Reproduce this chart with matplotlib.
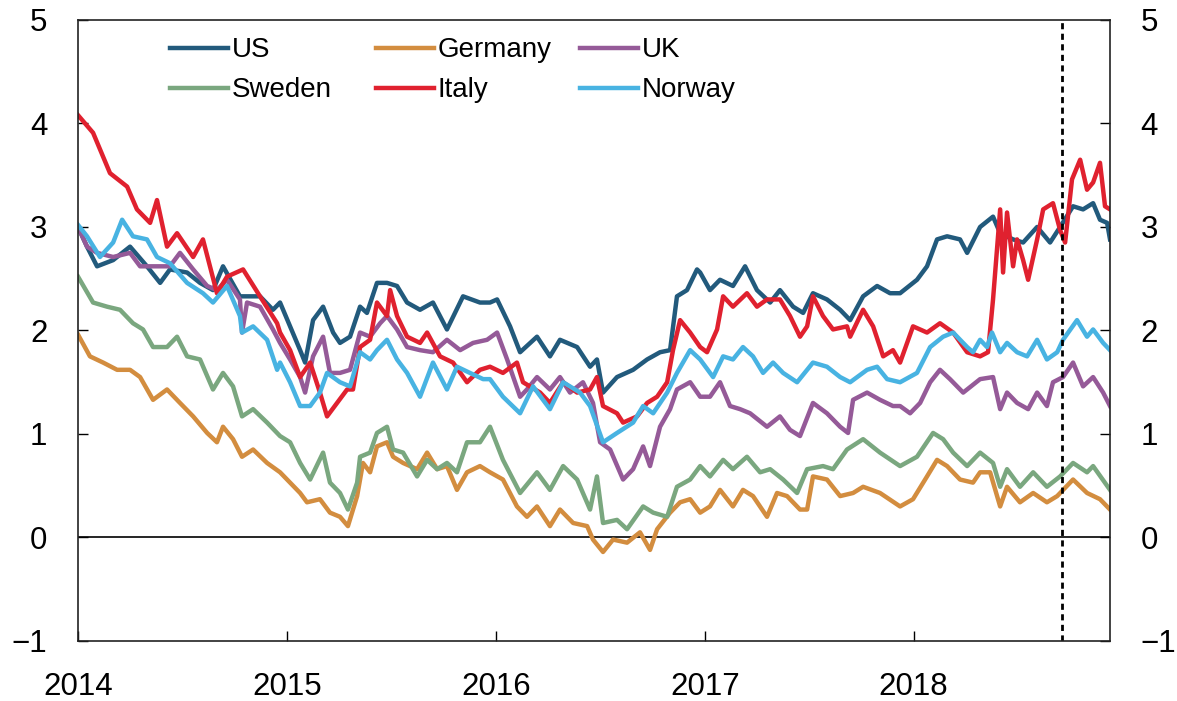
import matplotlib.pyplot as plt
from matplotlib.legend import Legend

# 10-year government bond yields (percent).
# *_t = years after 1 Jan 2014, values in percent
us_t = [0.0, 0.043, 0.091, 0.168, 0.249, 0.330, 0.393, 0.440, 0.522, 0.584, 0.646, 0.694, 0.775, 0.871, 0.933,
        0.967, 1.015, 1.063, 1.087, 1.125, 1.173, 1.221, 1.254, 1.302, 1.350, 1.383, 1.431, 1.479, 1.527, 1.575, 1.637, 1.699, 1.766, 1.843, 1.924,
        1.972, 2.006, 2.068, 2.116, 2.197, 2.259, 2.307, 2.389, 2.451, 2.484, 2.513, 2.580, 2.657, 2.724, 2.786, 2.834, 2.867, 2.915, 2.963,
        2.978, 3.025, 3.073, 3.135, 3.193, 3.250, 3.313, 3.360, 3.423, 3.471, 3.518, 3.585, 3.648, 3.696, 3.758, 3.825, 3.887,
        3.935, 4.016, 4.064, 4.112, 4.160, 4.222, 4.256, 4.318, 4.380, 4.414, 4.476, 4.524, 4.591, 4.653, 4.701, 4.763, 4.811, 4.859, 4.892, 4.926, 4.940]
us = [3.00, 2.81, 2.62, 2.68, 2.81, 2.62, 2.46, 2.59, 2.56, 2.46, 2.39, 2.62, 2.33, 2.33, 2.20,
      2.27, 2.04, 1.81, 1.69, 2.10, 2.23, 1.98, 1.88, 1.94, 2.23, 2.17, 2.46, 2.46, 2.43, 2.27, 2.20, 2.27, 2.01, 2.33, 2.27,
      2.27, 2.30, 2.04, 1.79, 1.94, 1.75, 1.91, 1.84, 1.65, 1.72, 1.40, 1.55, 1.62, 1.72, 1.79, 1.81, 2.33, 2.39, 2.59,
      2.56, 2.39, 2.49, 2.43, 2.62, 2.39, 2.27, 2.39, 2.23, 2.17, 2.36, 2.30, 2.20, 2.10, 2.33, 2.43, 2.36,
      2.36, 2.49, 2.62, 2.88, 2.91, 2.88, 2.75, 3.00, 3.10, 2.94, 2.88, 2.85, 3.00, 2.85, 3.00, 3.20, 3.17, 3.23, 3.07, 3.04, 2.88]

de_t = [0.0, 0.057, 0.120, 0.187, 0.249, 0.297, 0.359, 0.426, 0.488, 0.551, 0.618, 0.665, 0.694, 0.742, 0.785, 0.838, 0.905, 0.967,
        1.015, 1.063, 1.096, 1.158, 1.206, 1.254, 1.292, 1.336, 1.364, 1.398, 1.431, 1.479, 1.508, 1.556, 1.623, 1.671, 1.719, 1.766, 1.814, 1.862, 1.924,
        1.972, 2.034, 2.101, 2.149, 2.197, 2.259, 2.307, 2.370, 2.437, 2.465, 2.513, 2.561, 2.628, 2.690, 2.738, 2.772, 2.834, 2.882, 2.930,
        2.978, 3.025, 3.073, 3.135, 3.183, 3.231, 3.298, 3.346, 3.394, 3.456, 3.490, 3.518, 3.585, 3.648, 3.710, 3.758, 3.839,
        3.935, 3.997, 4.064, 4.112, 4.160, 4.222, 4.284, 4.318, 4.366, 4.414, 4.447, 4.509, 4.572, 4.638, 4.687, 4.763, 4.830, 4.892, 4.940]
germany = [1.96, 1.75, 1.69, 1.62, 1.62, 1.55, 1.33, 1.43, 1.30, 1.17, 1.01, 0.92, 1.07, 0.95, 0.78, 0.85, 0.72, 0.63,
           0.53, 0.43, 0.34, 0.37, 0.24, 0.20, 0.11, 0.40, 0.72, 0.63, 0.88, 0.92, 0.78, 0.72, 0.66, 0.82, 0.66, 0.69, 0.46, 0.63, 0.69,
           0.63, 0.56, 0.30, 0.20, 0.30, 0.11, 0.27, 0.14, 0.11, -0.02, -0.14, -0.02, -0.05, 0.05, -0.12, 0.08, 0.24, 0.34, 0.37,
           0.24, 0.30, 0.46, 0.30, 0.46, 0.40, 0.20, 0.43, 0.40, 0.27, 0.27, 0.59, 0.56, 0.40, 0.43, 0.49, 0.43,
           0.30, 0.37, 0.59, 0.75, 0.69, 0.56, 0.53, 0.63, 0.63, 0.30, 0.49, 0.34, 0.43, 0.34, 0.40, 0.56, 0.43, 0.37, 0.27]

uk_t = [0.0, 0.043, 0.091, 0.168, 0.249, 0.297, 0.359, 0.440, 0.488, 0.551, 0.618, 0.665, 0.713, 0.775, 0.785, 0.809, 0.871, 0.933,
        0.967, 1.015, 1.063, 1.087, 1.125, 1.173, 1.206, 1.254, 1.302, 1.350, 1.398, 1.446, 1.479, 1.527, 1.575, 1.637, 1.699, 1.766, 1.829, 1.891, 1.958,
        2.006, 2.054, 2.116, 2.149, 2.197, 2.259, 2.307, 2.355, 2.417, 2.465, 2.499, 2.547, 2.609, 2.657, 2.705, 2.738, 2.786, 2.834, 2.867, 2.930,
        2.978, 3.025, 3.073, 3.121, 3.169, 3.217, 3.298, 3.360, 3.408, 3.456, 3.518, 3.585, 3.648, 3.686, 3.710, 3.777, 3.839, 3.901,
        3.935, 3.983, 4.031, 4.079, 4.126, 4.174, 4.237, 4.318, 4.380, 4.414, 4.447, 4.495, 4.548, 4.591, 4.638, 4.667, 4.715, 4.763, 4.811, 4.859, 4.907, 4.940]
uk = [3.00, 2.81, 2.75, 2.71, 2.75, 2.62, 2.62, 2.62, 2.75, 2.59, 2.43, 2.39, 2.49, 2.30, 1.98, 2.27, 2.23, 2.01,
      1.88, 1.72, 1.55, 1.40, 1.75, 1.94, 1.59, 1.59, 1.62, 1.98, 1.94, 2.07, 2.14, 2.01, 1.84, 1.81, 1.79, 1.91, 1.81, 1.88, 1.91,
      1.98, 1.72, 1.36, 1.43, 1.55, 1.43, 1.55, 1.40, 1.50, 1.30, 0.92, 0.85, 0.56, 0.66, 0.88, 0.69, 1.07, 1.24, 1.43, 1.50,
      1.36, 1.36, 1.50, 1.27, 1.24, 1.20, 1.07, 1.17, 1.04, 0.98, 1.30, 1.20, 1.07, 1.01, 1.33, 1.40, 1.33, 1.27,
      1.27, 1.20, 1.30, 1.50, 1.62, 1.53, 1.40, 1.53, 1.55, 1.24, 1.40, 1.30, 1.24, 1.40, 1.27, 1.50, 1.55, 1.69, 1.46, 1.55, 1.40, 1.27]

se_t = [0.0, 0.072, 0.139, 0.201, 0.263, 0.311, 0.359, 0.426, 0.474, 0.522, 0.584, 0.646, 0.694, 0.742, 0.785, 0.838, 0.905, 0.967,
        1.015, 1.063, 1.111, 1.173, 1.206, 1.254, 1.292, 1.336, 1.350, 1.398, 1.431, 1.479, 1.508, 1.556, 1.623, 1.671, 1.719, 1.766, 1.814, 1.862, 1.924,
        1.972, 2.034, 2.116, 2.197, 2.259, 2.322, 2.389, 2.451, 2.484, 2.513, 2.580, 2.628, 2.705, 2.753, 2.820, 2.867, 2.930,
        2.978, 3.025, 3.088, 3.135, 3.202, 3.265, 3.313, 3.375, 3.442, 3.490, 3.566, 3.614, 3.681, 3.758, 3.839,
        3.935, 4.016, 4.093, 4.141, 4.189, 4.256, 4.318, 4.380, 4.414, 4.447, 4.509, 4.572, 4.638, 4.701, 4.763, 4.830, 4.859, 4.940]
sweden = [2.52, 2.27, 2.23, 2.20, 2.07, 2.01, 1.84, 1.84, 1.94, 1.75, 1.72, 1.43, 1.59, 1.46, 1.17, 1.24, 1.11, 0.98,
          0.92, 0.72, 0.56, 0.82, 0.53, 0.43, 0.27, 0.53, 0.78, 0.82, 1.01, 1.07, 0.85, 0.82, 0.59, 0.75, 0.66, 0.72, 0.63, 0.92, 0.92,
          1.07, 0.75, 0.43, 0.63, 0.46, 0.69, 0.56, 0.27, 0.59, 0.14, 0.17, 0.08, 0.30, 0.24, 0.20, 0.49, 0.56,
          0.69, 0.59, 0.75, 0.66, 0.78, 0.63, 0.66, 0.56, 0.43, 0.66, 0.69, 0.66, 0.85, 0.95, 0.82,
          0.69, 0.78, 1.01, 0.95, 0.82, 0.69, 0.82, 0.72, 0.49, 0.66, 0.49, 0.63, 0.49, 0.59, 0.72, 0.63, 0.69, 0.46]

it_t = [0.0, 0.072, 0.153, 0.235, 0.282, 0.345, 0.378, 0.426, 0.474, 0.551, 0.598, 0.665, 0.713, 0.790, 0.871, 0.953,
        0.967, 1.015, 1.063, 1.111, 1.158, 1.192, 1.240, 1.288, 1.316, 1.350, 1.398, 1.431, 1.479, 1.494, 1.527, 1.575, 1.637, 1.671, 1.733, 1.795, 1.862, 1.924,
        1.972, 2.034, 2.101, 2.130, 2.212, 2.259, 2.322, 2.389, 2.451, 2.484, 2.513, 2.580, 2.609, 2.676, 2.724, 2.772, 2.820, 2.848, 2.882, 2.930,
        2.978, 3.011, 3.059, 3.088, 3.135, 3.202, 3.250, 3.298, 3.360, 3.408, 3.456, 3.490, 3.518, 3.566, 3.614, 3.681, 3.696, 3.758, 3.806, 3.854, 3.901,
        3.935, 3.997, 4.064, 4.126, 4.189, 4.256, 4.318, 4.356, 4.380, 4.414, 4.428, 4.447, 4.476, 4.495, 4.524, 4.548, 4.591, 4.620, 4.667, 4.701,
        4.725, 4.758, 4.797, 4.830, 4.859, 4.892, 4.916, 4.940]
italy = [4.08, 3.91, 3.52, 3.39, 3.17, 3.04, 3.26, 2.81, 2.94, 2.71, 2.88, 2.36, 2.52, 2.59, 2.33, 2.07,
         1.98, 1.81, 1.55, 1.69, 1.40, 1.17, 1.30, 1.43, 1.43, 1.84, 1.91, 2.27, 2.14, 2.39, 2.14, 1.94, 1.88, 1.98, 1.75, 1.69, 1.50, 1.62,
         1.65, 1.59, 1.69, 1.50, 1.40, 1.30, 1.50, 1.40, 1.43, 1.55, 1.27, 1.20, 1.11, 1.17, 1.30, 1.36, 1.50, 1.81, 2.10, 1.98,
         1.84, 1.79, 2.01, 2.33, 2.23, 2.36, 2.23, 2.30, 2.30, 2.14, 1.94, 2.04, 2.33, 2.14, 2.01, 2.04, 1.94, 2.20, 2.04, 1.75, 1.81,
         1.69, 2.04, 1.98, 2.07, 1.98, 1.79, 1.75, 1.79, 2.30, 3.17, 2.56, 3.14, 2.62, 2.88, 2.68, 2.49, 2.88, 3.17, 3.23, 2.97,
         2.85, 3.46, 3.65, 3.36, 3.43, 3.62, 3.20, 3.17]

no_t = [0.0, 0.043, 0.105, 0.168, 0.211, 0.263, 0.330, 0.378, 0.440, 0.522, 0.598, 0.646, 0.713, 0.775, 0.785, 0.838, 0.905, 0.953,
        0.967, 1.015, 1.063, 1.111, 1.158, 1.192, 1.254, 1.302, 1.350, 1.398, 1.431, 1.479, 1.527, 1.575, 1.637, 1.699, 1.766, 1.814, 1.876, 1.939,
        1.972, 2.034, 2.116, 2.178, 2.259, 2.322, 2.403, 2.451, 2.513, 2.580, 2.657, 2.705, 2.753, 2.820, 2.867, 2.930,
        2.978, 3.040, 3.088, 3.135, 3.183, 3.231, 3.279, 3.327, 3.375, 3.442, 3.518, 3.585, 3.648, 3.696, 3.777, 3.825, 3.873,
        3.935, 4.016, 4.079, 4.141, 4.189, 4.256, 4.284, 4.318, 4.351, 4.375, 4.414, 4.447, 4.495, 4.543, 4.591, 4.638, 4.687, 4.715, 4.782, 4.830, 4.859, 4.907, 4.940]
norway = [3.02, 2.91, 2.71, 2.85, 3.07, 2.91, 2.88, 2.71, 2.65, 2.46, 2.36, 2.27, 2.43, 2.14, 1.98, 2.04, 1.91, 1.62,
          1.69, 1.50, 1.27, 1.27, 1.40, 1.59, 1.50, 1.46, 1.79, 1.72, 1.81, 1.91, 1.72, 1.59, 1.36, 1.69, 1.43, 1.65, 1.59, 1.53,
          1.53, 1.36, 1.20, 1.46, 1.24, 1.50, 1.40, 1.27, 0.92, 1.01, 1.11, 1.27, 1.20, 1.40, 1.59, 1.81,
          1.72, 1.55, 1.75, 1.72, 1.84, 1.75, 1.59, 1.69, 1.59, 1.50, 1.69, 1.65, 1.55, 1.50, 1.62, 1.65, 1.53,
          1.50, 1.59, 1.84, 1.94, 1.98, 1.84, 1.79, 1.91, 1.84, 1.98, 1.79, 1.88, 1.79, 1.75, 1.91, 1.72, 1.79, 1.91, 2.10, 1.94, 2.01, 1.88, 1.81]

START = 2014
END = 2014 + 4.94
RATE_DECISION = 2014 + 4.71  # dotted vertical line, Sept 2018
YEARS = [2014, 2015, 2016, 2017, 2018]

# series drawn in this order; colours
series = [
    ('US', us_t, us, '#225a7c'),
    ('Germany', de_t, germany, '#d38d3f'),
    ('UK', uk_t, uk, '#955a98'),
    ('Sweden', se_t, sweden, '#7aa77f'),
    ('Italy', it_t, italy, '#e0212f'),
    ('Norway', no_t, norway, '#48b3e2'),
]

plt.rcParams['font.family'] = ['Liberation Sans', 'DejaVu Sans']
plt.rcParams['font.size'] = 22.5

fig = plt.figure(figsize=(11.77, 7.01), dpi=100)
ax = fig.add_axes([0.0663, 0.0856, 0.8768, 0.8859])

lines = {}
for name, t, vals, col in series:
    x = [START + v for v in t]
    lines[name], = ax.plot(x, vals, color=col, lw=3.2, solid_joinstyle='round', label=name)

ax.axhline(0, color='black', lw=1.2, zorder=1)
ax.axvline(RATE_DECISION, color='black', lw=2, linestyle=(0, (2.2, 1.6)))

ax.set_xlim(START, END)
ax.set_ylim(-1, 5)
ax.set_xticks(YEARS)
ax.set_xticklabels([str(y) for y in YEARS])
ax.set_yticks(range(-1, 6))

ax.tick_params(axis='y', direction='in', length=7.5, width=1, left=True, right=True,
               labelleft=True, labelright=True, pad=22)
ax.tick_params(axis='x', direction='in', length=7.5, width=1, pad=22)
for sp in ax.spines.values():
    sp.set_linewidth(1.2)
    sp.set_color('#222222')

# legend: three columns placed by hand so they sit evenly like the original
columns = [['US', 'Sweden'], ['Germany', 'Italy'], ['UK', 'Norway']]
col_x = [0.0891, 0.2888, 0.4864]
for names, cx in zip(columns, col_x):
    leg = Legend(ax, [lines[n] for n in names], names, loc='upper left',
                 bbox_to_anchor=(cx, 0.972), frameon=False, fontsize=20,
                 handlelength=2.1, handletextpad=0.12, labelspacing=0.5,
                 borderpad=0, borderaxespad=0)
    ax.add_artist(leg)

plt.savefig('out.png', dpi=100)
